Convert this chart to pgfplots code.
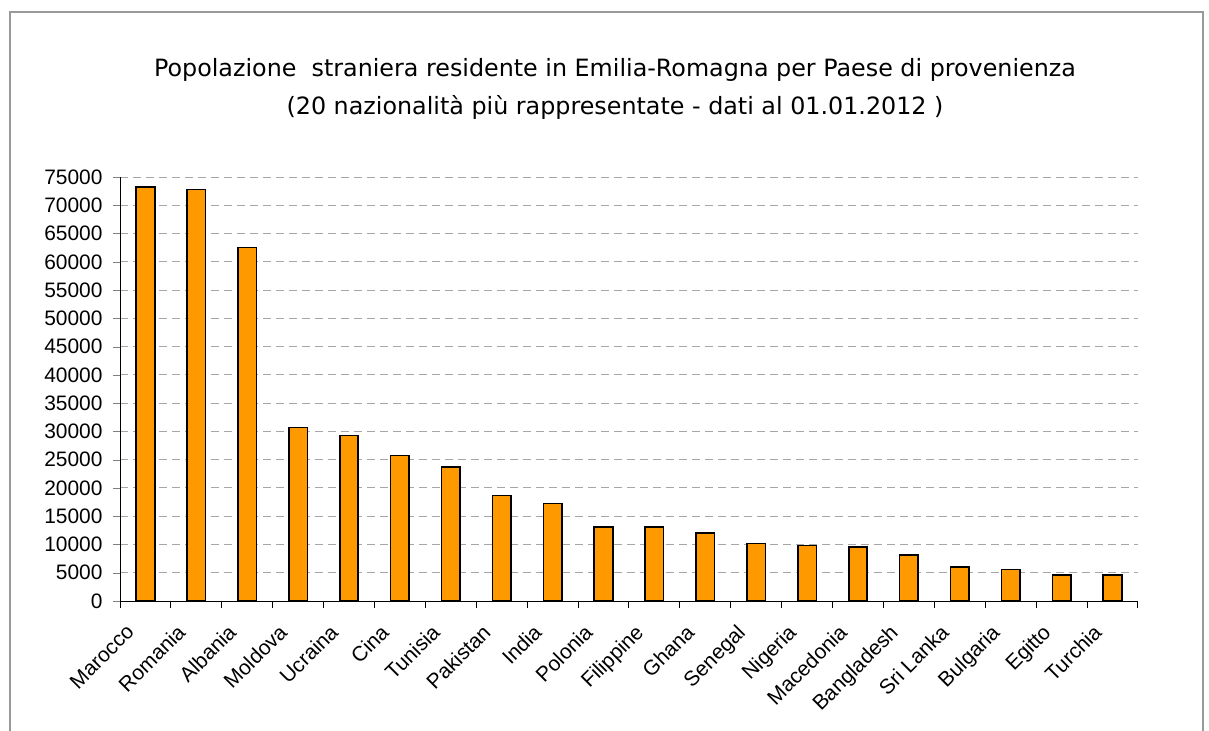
\documentclass[border=0pt]{standalone}
\usepackage{fontspec}
\setmainfont{Liberation Sans}
\newfontfamily\titlefont{DejaVu Sans}
\usepackage{pgfplots}
\pgfplotsset{compat=1.18}
\definecolor{barorange}{HTML}{FF9900}
\begin{document}
\begin{tikzpicture}
\useasboundingbox (0bp,0bp) rectangle (1209bp,731bp);
\draw[gray!80, line width=1.5bp] (10bp,0bp) -- (10bp,719bp) -- (1203bp,719bp) -- (1203bp,0bp);
\node[font=\titlefont\fontsize{23.9}{28}\selectfont] at (615bp,661bp) {Popolazione\ \ straniera residente in Emilia-Romagna per Paese di provenienza};
\node[font=\titlefont\fontsize{23.9}{28}\selectfont] at (615bp,624bp) {(20 nazionalità più rappresentate - dati al 01.01.2012 )};
\begin{axis}[
  at={(120bp,130bp)}, anchor=south west,
  scale only axis, width=1018bp, height=424bp,
  xmin=-0.5, xmax=19.5, ymin=0, ymax=75000,
  axis lines*=left,
  axis line style={-, black, line width=1bp},
  ytick={0,5000,...,75000},
  scaled y ticks=false,
  yticklabel style={/pgf/number format/fixed, /pgf/number format/1000 sep={}, xshift=-7bp},
  /pgf/number format/assume math mode=true,
  tick label style={font=\fontsize{21}{25}\selectfont},
  tick align=outside,
  major tick length=7bp,
  ymajorgrids,
  major grid style={gray!70, dash pattern=on 8bp off 5bp, line width=1bp},
  xtick={0,...,19},
  xticklabels={Marocco,Romania,Albania,Moldova,Ucraina,Cina,Tunisia,Pakistan,India,Polonia,Filippine,Ghana,Senegal,Nigeria,Macedonia,Bangladesh,Sri Lanka,Bulgaria,Egitto,Turchia},
  x tick style={draw=none},
  minor xtick={-0.5,0.5,...,19.5},
  minor x tick style={draw=black, line width=1bp},
  minor tick length=7bp,
  xticklabel style={rotate=45, anchor=north east, inner sep=1bp, xshift=-24bp, yshift=5bp},
  ybar, bar width=18.5bp,
]
\addplot[fill=barorange, draw=black, line width=1.6bp] coordinates {
(0,73230) (1,72760) (2,62500) (3,30660) (4,29250) (5,25710) (6,23660)
(7,18680) (8,17260) (9,13080) (10,13080) (11,12020) (12,10190) (13,9840)
(14,9545) (15,8130) (16,6010) (17,5600) (18,4600) (19,4600)};
\end{axis}
\end{tikzpicture}
\end{document}
